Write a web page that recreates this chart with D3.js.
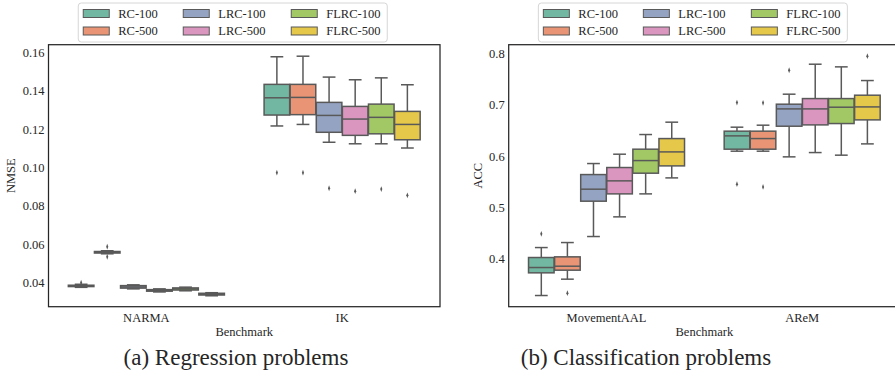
<!DOCTYPE html>
<html>
<head>
<meta charset="utf-8">
<script src="https://cdn.jsdelivr.net/npm/d3@7"></script>
<style>
  html, body { margin: 0; padding: 0; background: #fff; }
  svg { display: block; }
  text { font-family: "Liberation Serif", "Times New Roman", serif; fill: #262626; }
</style>
</head>
<body>
<svg id="fig" width="895" height="379"></svg>
<script>
// Model variants (hue order)
const models = ["RC-100", "RC-500", "LRC-100", "LRC-500", "FLRC-100", "FLRC-500"];
// Set2 palette, desaturated as in the box fills
const modelColors = ["#72b7a1", "#e99575", "#95a3c3", "#db96c0", "#a2c865", "#e5c849"];

// Regression benchmarks
const regBenchmarks = ["NARMA", "IK"];
// Box statistics per model: [lower whisker, Q1, median, Q3, upper whisker]
const narmaStats = [
  [0.0374, 0.0378, 0.0381, 0.0385, 0.0390],
  [0.0549, 0.0553, 0.0557, 0.0561, 0.0565],
  [0.0366, 0.0370, 0.0376, 0.0383, 0.0387],
  [0.0350, 0.0354, 0.0358, 0.0362, 0.0366],
  [0.0356, 0.0360, 0.0366, 0.0371, 0.0375],
  [0.0330, 0.0334, 0.0338, 0.0343, 0.0346]
];
const narmaOutliers = [[0.0398], [0.0586, 0.0533], [], [], [], []];
const ikStats = [
  [0.1216, 0.1273, 0.1363, 0.1433, 0.1577],
  [0.1224, 0.1275, 0.1365, 0.1433, 0.1580],
  [0.1131, 0.1183, 0.1271, 0.1339, 0.1471],
  [0.1123, 0.1167, 0.1252, 0.1318, 0.1457],
  [0.1123, 0.1175, 0.1261, 0.1330, 0.1467],
  [0.1101, 0.1144, 0.1224, 0.1292, 0.1431]
];
const ikOutliers = [[0.0972], [0.0972], [0.0891], [0.0876], [0.0887], [0.0854]];

// Classification benchmarks
const clsBenchmarks = ["MovementAAL", "AReM"];
const movementStats = [
  [0.3269, 0.3713, 0.3817, 0.4013, 0.4208],
  [0.3589, 0.3765, 0.3843, 0.4026, 0.4306],
  [0.4424, 0.5116, 0.5351, 0.5637, 0.5853],
  [0.4809, 0.5259, 0.5514, 0.5775, 0.6036],
  [0.5259, 0.5664, 0.5911, 0.6134, 0.6421],
  [0.5572, 0.5807, 0.6081, 0.6342, 0.6663]
];
const movementOutliers = [[0.4476], [0.3315], [], [], [], []];
const aremStats = [
  [0.6095, 0.6134, 0.6395, 0.6487, 0.6565],
  [0.6095, 0.6134, 0.6342, 0.6487, 0.6604],
  [0.5984, 0.6584, 0.6923, 0.7015, 0.7211],
  [0.6068, 0.6610, 0.6923, 0.7125, 0.7798],
  [0.6017, 0.6636, 0.6956, 0.7125, 0.7746],
  [0.6238, 0.6708, 0.6962, 0.7191, 0.7478]
];
const aremOutliers = [[0.7047, 0.5449], [0.7041, 0.5396], [0.7680], [], [], [0.7955]];

// Axis ticks
const regTicks = [0.04, 0.06, 0.08, 0.10, 0.12, 0.14, 0.16];
const clsTicks = [0.4, 0.5, 0.6, 0.7, 0.8];

const edgeGray = "#595959";
const svg = d3.select("#fig");

function panel(opts) {
  const { x0, x1, y0, y1, yDomain, ticks, fmt, yLabel, yLabelX, benchmarks, stats, outliers, caption, captionX } = opts;
  const g = svg.append("g");

  const x = d3.scaleBand().domain(benchmarks).range([x0, x1]);
  const hue = d3.scaleBand().domain(models).range([0, x.bandwidth() * 0.8]);
  const y = d3.scaleLinear().domain(yDomain).range([y1, y0]);
  const boxW = hue.bandwidth() * 0.98;

  benchmarks.forEach((b, bi) => {
    const base = x(b) + x.bandwidth() * 0.1;
    models.forEach((m, mi) => {
      const s = stats[bi][mi];
      const cx = base + hue(m) + hue.bandwidth() / 2;
      const bg = g.append("g");
      // whiskers
      bg.append("line").attr("x1", cx).attr("x2", cx).attr("y1", y(s[0])).attr("y2", y(s[1]))
        .attr("stroke", edgeGray).attr("stroke-width", 1.5);
      bg.append("line").attr("x1", cx).attr("x2", cx).attr("y1", y(s[3])).attr("y2", y(s[4]))
        .attr("stroke", edgeGray).attr("stroke-width", 1.5);
      // caps
      [s[0], s[4]].forEach(v => {
        bg.append("line").attr("x1", cx - boxW / 4).attr("x2", cx + boxW / 4)
          .attr("y1", y(v)).attr("y2", y(v)).attr("stroke", edgeGray).attr("stroke-width", 1.5);
      });
      // box
      bg.append("rect").attr("x", cx - boxW / 2).attr("width", boxW)
        .attr("y", y(s[3])).attr("height", Math.max(0.5, y(s[1]) - y(s[3])))
        .attr("fill", modelColors[mi]).attr("stroke", edgeGray).attr("stroke-width", 1.5);
      // median
      bg.append("line").attr("x1", cx - boxW / 2).attr("x2", cx + boxW / 2)
        .attr("y1", y(s[2])).attr("y2", y(s[2])).attr("stroke", edgeGray).attr("stroke-width", 1.5);
      // fliers
      outliers[bi][mi].forEach(v => {
        bg.append("path")
          .attr("d", d3.symbol().type(d3.symbolDiamond).size(8)())
          .attr("transform", `translate(${cx},${y(v)}) scale(0.7,1.1)`)
          .attr("fill", edgeGray);
      });
    });
  });

  // frame
  g.append("rect").attr("x", x0).attr("y", y0).attr("width", x1 - x0).attr("height", y1 - y0)
    .attr("fill", "none").attr("stroke", "#262626").attr("stroke-width", 1.25);

  // y ticks
  const yAxis = d3.axisLeft(y).tickValues(ticks).tickFormat(d3.format(fmt)).tickSize(0).tickPadding(4);
  const ya = g.append("g").attr("transform", `translate(${x0},0)`).call(yAxis);
  ya.select(".domain").remove();
  ya.selectAll("text").attr("font-family", "Liberation Serif, serif").attr("font-size", 12.5).attr("fill", "#262626");

  // x ticks
  const xAxis = d3.axisBottom(x).tickSize(0).tickPadding(6);
  const xa = g.append("g").attr("transform", `translate(0,${y1})`).call(xAxis);
  xa.select(".domain").remove();
  xa.selectAll("text").attr("font-family", "Liberation Serif, serif").attr("font-size", 12.5).attr("fill", "#262626");

  // axis titles
  g.append("text").attr("x", (x0 + x1) / 2).attr("y", 336).attr("text-anchor", "middle")
    .attr("font-size", 12.5).text("Benchmark");
  g.append("text").attr("transform", `translate(${yLabelX},${(y0 + y1) / 2}) rotate(-90)`)
    .attr("text-anchor", "middle").attr("dy", "0.35em").attr("font-size", 12.5).text(yLabel);

  // legend
  const lx = (x0 + x1) / 2 - 11.5 - 154.5;
  const lg = g.append("g").attr("transform", `translate(${lx},3)`);
  lg.append("rect").attr("x", 0).attr("y", 0).attr("width", 309).attr("height", 39)
    .attr("rx", 3).attr("fill", "#fff").attr("fill-opacity", 0.85)
    .attr("stroke", "#d6d6d6").attr("stroke-width", 1);
  const colX = [5, 105, 213];
  models.forEach((m, i) => {
    const col = Math.floor(i / 2), row = i % 2;
    const px = colX[col], py = 6.5 + row * 17.5;
    lg.append("rect").attr("x", px).attr("y", py).attr("width", 26).attr("height", 8)
      .attr("fill", modelColors[i]).attr("stroke", edgeGray).attr("stroke-width", 1);
    lg.append("text").attr("x", px + 35).attr("y", py + 4).attr("dy", "0.35em")
      .attr("font-size", 12.5).text(m);
  });

  // caption
  svg.append("text").attr("x", captionX).attr("y", 365).attr("text-anchor", "middle")
    .attr("font-size", 23).attr("fill", "#111").text(caption);
}

panel({
  x0: 48.5, x1: 440, y0: 44.7, y1: 306.7,
  yDomain: [0.0273, 0.164], ticks: regTicks, fmt: ".2f", yLabel: "NMSE", yLabelX: 11,
  benchmarks: regBenchmarks, stats: [narmaStats, ikStats], outliers: [narmaOutliers, ikOutliers],
  caption: "(a) Regression problems", captionX: 236
});

panel({
  x0: 508.7, x1: 900, y0: 44.7, y1: 306.7,
  yDomain: [0.305, 0.818], ticks: clsTicks, fmt: ".1f", yLabel: "ACC", yLabelX: 478,
  benchmarks: clsBenchmarks, stats: [movementStats, aremStats], outliers: [movementOutliers, aremOutliers],
  caption: "(b) Classification problems", captionX: 646
});
</script>
</body>
</html>
